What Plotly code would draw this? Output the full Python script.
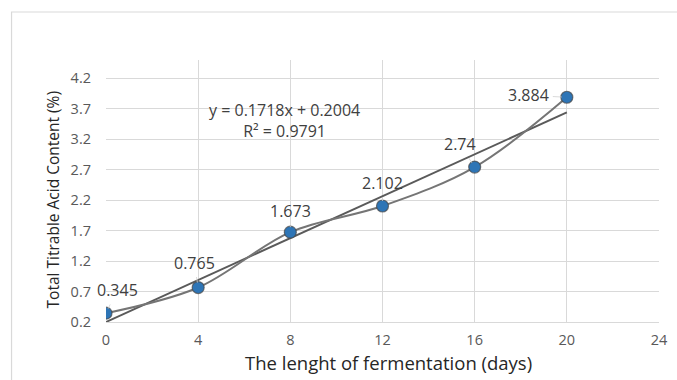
import plotly.graph_objects as go

days = [0, 4, 8, 12, 16, 20]
acid = [0.345, 0.765, 1.673, 2.102, 2.74, 3.884]
labels = ["0.345", "0.765", "1.673", "2.102", "2.74", "3.884"]
slope, intercept = 0.1718, 0.2004
eq_text = "y = 0.1718x + 0.2004<br>R² = 0.9791"
x_title = "The lenght of fermentation (days)"
y_title = "Total Titrable Acid Content (%)"
y_ticks = [0.2, 0.7, 1.2, 1.7, 2.2, 2.7, 3.2, 3.7, 4.2]
x_ticks = [0, 4, 8, 12, 16, 20, 24]

# label offsets (pixels) relative to points
lab_dx = [11, -4, 0, 0, -15, -38]
lab_dy = [-23, -25, -21, -23, -23, -2]

FONT = "Open Sans"
fig = go.Figure()

trend_x = [days[0], days[-1]]
trend_y = [slope * v + intercept for v in trend_x]
fig.add_trace(go.Scatter(x=trend_x, y=trend_y, mode="lines",
                         line=dict(color="#5a5a5a", width=2), hoverinfo="skip"))
fig.add_trace(go.Scatter(x=days, y=acid, mode="lines+markers",
                         line=dict(color="#757575", width=2, shape="spline", smoothing=1.0),
                         marker=dict(size=12, color="#2E75B6",
                                     line=dict(color="rgba(70,70,70,0.7)", width=1.2))))

for xv, yv, t, dx, dy in zip(days, acid, labels, lab_dx, lab_dy):
    fig.add_annotation(x=xv, y=yv, text=t, showarrow=True, ax=dx, ay=dy,
                       arrowhead=0, arrowwidth=0.8, arrowcolor="#d0d0d0",
                       standoff=5, startstandoff=2,
                       font=dict(family=FONT, size=16, color="#404040"))

fig.add_annotation(x=7.75, y=3.5, text=eq_text, showarrow=False,
                   font=dict(family=FONT, size=16, color="#404040"),
                   align="center", xanchor="center", yanchor="middle")

fig.add_annotation(xref="paper", yref="paper", x=0.51, y=-0.155, text=x_title,
                   showarrow=False, xanchor="center", yanchor="middle",
                   font=dict(family=FONT, size=18.5, color="#262626"))
fig.add_annotation(xref="paper", yref="y", x=-0.095, y=2.2, text=y_title,
                   showarrow=False, textangle=-90, xanchor="center", yanchor="middle",
                   font=dict(family=FONT, size=15.5, color="#262626"))

W, H = 677, 380
L, R, T, B = 106, 9, 60, 58
pw, ph = W - L - R, H - T - B
def px(x):
    return (x - L) / pw
def py(y):
    return (H - B - y) / ph

fig.add_shape(type="rect", xref="paper", yref="paper",
              x0=px(10), x1=px(690), y0=py(12), y1=py(400),
              line=dict(color="#d9d9d9", width=1.2), layer="below")

fig.update_layout(
    width=W, height=H, margin=dict(l=L, r=R, t=T, b=B),
    paper_bgcolor="white", plot_bgcolor="white", showlegend=False,
    xaxis=dict(range=[0, 24], tickvals=x_ticks, showgrid=True, gridcolor="#d9d9d9",
               gridwidth=1, zeroline=False, showline=True, linecolor="#d9d9d9",
               ticks="", ticklabelstandoff=5,
               tickfont=dict(family=FONT, size=14.5, color="#595959")),
    yaxis=dict(range=[0.2, 4.495], tickvals=y_ticks, ticktext=[f"{v:.1f}" for v in y_ticks],
               showgrid=True, gridcolor="#d9d9d9", gridwidth=1, zeroline=False,
               showline=False, ticks="", ticklabelstandoff=14,
               tickfont=dict(family=FONT, size=14.5, color="#595959")),
)

fig.write_html("out.html")
